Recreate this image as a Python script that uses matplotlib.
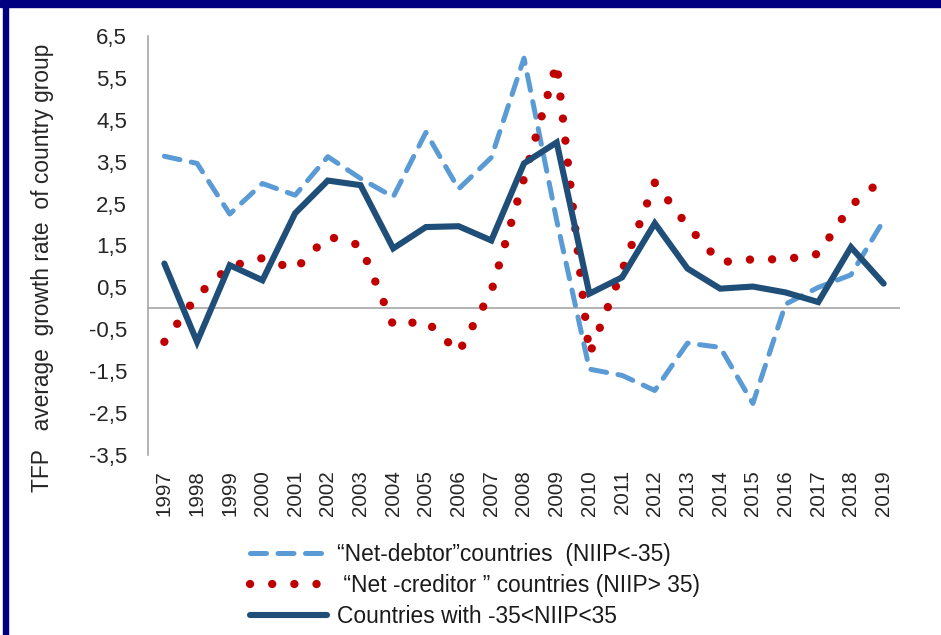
import matplotlib
matplotlib.use("Agg")
import matplotlib.pyplot as plt
from matplotlib.patches import Rectangle
import numpy as np

plt.rcParams['font.family'] = ['Liberation Sans', 'DejaVu Sans']

years = list(range(1997, 2020))
net_debtor = [3.63, 3.46, 2.25, 2.98, 2.7, 3.62, 3.1, 2.66, 4.2, 2.85, 3.6,
              5.97, 2.1, -1.45, -1.6, -1.96, -0.83, -0.93, -2.27, 0.1, 0.5,
              0.8, 2.1]
net_creditor = [-0.8, 0.3, 1.0, 1.2, 0.93, 1.72, 1.5, -0.4, -0.3, -1.05, 0.4,
                3.1, 5.85, -1.1, 0.9, 3.0, 1.97, 1.1, 1.17, 1.17, 1.3, 2.45,
                3.1]
middle = [1.07, -0.8, 1.03, 0.67, 2.27, 3.05, 2.94, 1.43, 1.94, 1.96, 1.62,
          3.46, 3.96, 0.35, 0.74, 2.03, 0.95, 0.47, 0.52, 0.38, 0.15, 1.46,
          0.59]
labels = ['\u201cNet-debtor\u201dcountries  (NIIP<-35)',
          ' \u201cNet -creditor \u201d countries (NIIP> 35)',
          'Countries with -35<NIIP<35']
yticks = [-3.5, -2.5, -1.5, -0.5, 0.5, 1.5, 2.5, 3.5, 4.5, 5.5, 6.5]
ylabel = 'TFP   average  growth rate  of country group'

W, H = 941, 635
fig = plt.figure(figsize=(W / 100, H / 100), dpi=100)
fig.patch.set_facecolor('white')
ax = fig.add_axes([148 / W, 1 - 455 / H, 752 / W, 419 / H])

ax.plot(years, net_debtor, color='#5B9BD5', lw=3.6, ls=(0, (3.2, 2.3)),
        dash_capstyle='round', solid_capstyle='round', label=labels[0], zorder=2)
ax.plot(years, net_creditor, color='#C00000', lw=6.0, ls=(0, (0.01, 2.65)),
        dash_capstyle='round', label=labels[1], zorder=3)
ax.plot(years, middle, color='#1F4E79', lw=4.4, solid_joinstyle='miter',
        solid_capstyle='round', label=labels[2], zorder=4)

ax.axhline(0, color='#A6A6A6', lw=1.2, zorder=1)
ax.set_xlim(1996.5, 2019.5)
ax.set_ylim(-3.5, 6.5)
ax.set_yticks(yticks)
ax.set_yticklabels([f'{v:.1f}'.replace('.', ',') for v in yticks])
ax.set_xticks(years)
ax.set_xticklabels([str(y) for y in years], rotation=90)
ax.tick_params(axis='y', length=0, pad=15, labelsize=16, labelcolor='#262626')
ax.tick_params(axis='x', length=0, pad=11, labelsize=14.8, labelcolor='#262626')
for s in ['top', 'right', 'bottom']:
    ax.spines[s].set_visible(False)
ax.spines['left'].set_color('#A6A6A6')
ax.spines['left'].set_linewidth(1.2)

fig.text(43 / W, 1 - 268 / H, ylabel, rotation=90, ha='center', va='center',
         fontsize=16.4, color='#262626')

leg = fig.legend(loc='upper left', bbox_to_anchor=(250 / W, 1 - 542.5 / H),
                 frameon=False, fontsize=16.4, handlelength=3.4,
                 handletextpad=0.4, labelspacing=0.36, borderpad=0,
                 borderaxespad=0)
for t in leg.get_texts():
    t.set_color('#1a1a1a')

fig.patches.append(Rectangle((0, 1 - 7 / H), 1, 7 / H, transform=fig.transFigure,
                             color='#000080', zorder=10))
fig.patches.append(Rectangle((3 / W, 0), 5 / W, 1, transform=fig.transFigure,
                             color='#000080', zorder=10))

fig.savefig('out.png', dpi=100, facecolor='white')
